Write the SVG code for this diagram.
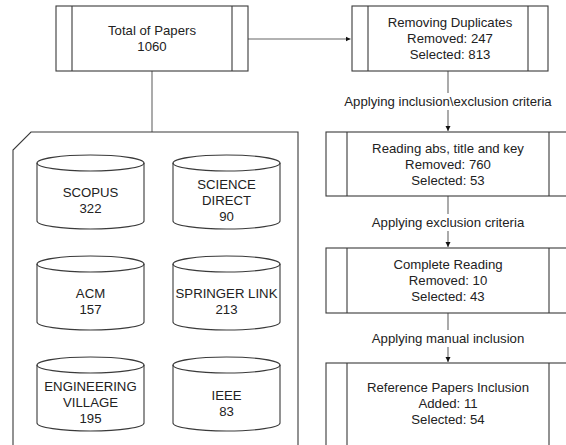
<svg xmlns="http://www.w3.org/2000/svg" width="566" height="445" viewBox="0 0 566 445">
<style>
.b{fill:#fff;stroke:#3a3a3a;stroke-width:1.1}
.c{fill:none;stroke:#666;stroke-width:1.1}
text{font-family:"Liberation Sans",Arial,sans-serif;font-size:13.2px;fill:#222;text-anchor:middle}
</style>
<defs>
<marker id="ah" markerWidth="6" markerHeight="6" refX="5" refY="3" orient="auto" markerUnits="userSpaceOnUse">
<path d="M0,0.5 L5,3 L0,5.5 Z" fill="#111"/>
</marker>
<g id="cyl">
<path class="b" d="M0,8 A53.5,8 0 0 1 107,8 L107,66 A53.5,8 0 0 1 0,66 Z"/>
<path class="b" style="fill:none" d="M0,8 A53.5,8 0 0 0 107,8"/>
</g>
</defs>
<g id="connectors">
<path class="c" d="M248,39 H350.5" marker-end="url(#ah)"/>
<path class="c" d="M152,71 V132"/>
<path class="c" d="M448,71 V93 M448,110 V131" marker-end="url(#ah)"/>
<path class="c" d="M448,196 V214 M448,231 V247" marker-end="url(#ah)"/>
<path class="c" d="M448,313 V330 M448,347 V362" marker-end="url(#ah)"/>
<text x="448" y="106">Applying inclusion\exclusion criteria</text>
<text x="448" y="227">Applying exclusion criteria</text>
<text x="448" y="343">Applying manual inclusion</text>
</g>
<g id="total">
<rect class="b" x="56" y="6" width="192" height="65"/>
<path class="b" d="M72,6 V71 M232,6 V71"/>
<text x="152" y="35">Total of Papers</text>
<text x="152" y="51">1060</text>
</g>
<g id="dup">
<rect class="b" x="352" y="6" width="196" height="65"/>
<path class="b" d="M368,6 V71 M528,6 V71"/>
<text x="450" y="27">Removing Duplicates</text>
<text x="450" y="43">Removed: 247</text>
<text x="450" y="59">Selected: 813</text>
</g>
<g id="reading">
<rect class="b" x="326" y="132" width="244" height="64"/>
<path class="b" d="M347,132 V196 M549,132 V196"/>
<text x="448" y="153">Reading abs, title and key</text>
<text x="448" y="169">Removed: 760</text>
<text x="448" y="185">Selected: 53</text>
</g>
<g id="complete">
<rect class="b" x="326" y="248" width="244" height="65"/>
<path class="b" d="M347,248 V313 M549,248 V313"/>
<text x="448" y="269">Complete Reading</text>
<text x="448" y="285">Removed: 10</text>
<text x="448" y="301">Selected: 43</text>
</g>
<g id="reference">
<rect class="b" x="326" y="363" width="244" height="90"/>
<path class="b" d="M347,363 V453 M549,363 V453"/>
<text x="448" y="392">Reference Papers Inclusion</text>
<text x="448" y="408">Added: 11</text>
<text x="448" y="424">Selected: 54</text>
</g>
<g id="sources">
<path class="b" d="M31,132 H298 V450 H13 V150 Z"/>
</g>
<g id="scopus">
<use href="#cyl" x="37" y="155"/>
<text x="90.5" y="197">SCOPUS</text>
<text x="90.5" y="213">322</text>
</g>
<g id="sciencedirect">
<use href="#cyl" x="173" y="155"/>
<text x="226.5" y="189">SCIENCE</text>
<text x="226.5" y="205">DIRECT</text>
<text x="226.5" y="221">90</text>
</g>
<g id="acm">
<use href="#cyl" x="37" y="256"/>
<text x="90.5" y="298">ACM</text>
<text x="90.5" y="314">157</text>
</g>
<g id="springer">
<use href="#cyl" x="173" y="256"/>
<text x="226.5" y="298">SPRINGER LINK</text>
<text x="226.5" y="314">213</text>
</g>
<g id="engineering">
<use href="#cyl" x="37" y="357"/>
<text x="90.5" y="391">ENGINEERING</text>
<text x="90.5" y="407">VILLAGE</text>
<text x="90.5" y="423">195</text>
</g>
<g id="ieee">
<use href="#cyl" x="173" y="357"/>
<text x="226.5" y="400">IEEE</text>
<text x="226.5" y="416">83</text>
</g>
</svg>
